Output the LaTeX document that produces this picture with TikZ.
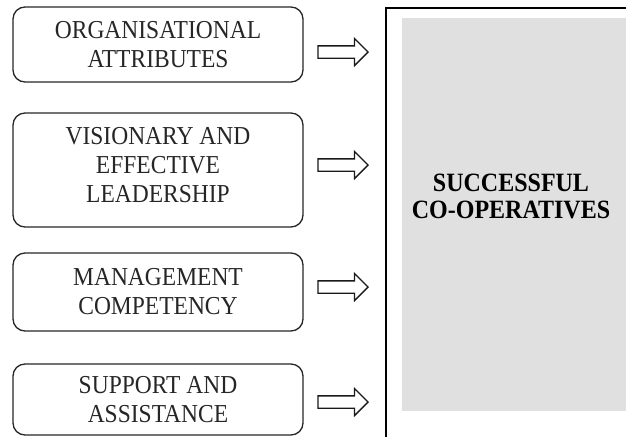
\documentclass[tikz,border=0pt]{standalone}
\usepackage{graphicx}
\usepackage{fontspec}
\setmainfont{Liberation Serif}
\usetikzlibrary{shapes.arrows,positioning}

% taller letters, as in the original figure
\newcommand\tl[1]{\scalebox{1}[1.1]{#1}}

\begin{document}
\begin{tikzpicture}[x=1pt,y=-1pt,
  factor node/.style={draw=black!85,line width=1.3pt,rounded corners=12pt,minimum width=290pt,align=center,text=black!85,font=\fontsize{23.5}{29}\selectfont},
  push arrow/.style={single arrow,draw=black!90,line width=1.3pt,minimum height=50pt,inner xsep=0pt,inner ysep=5.5pt,single arrow head extend=7.5pt},
  goal node/.style={align=center,font=\bfseries\fontsize{24}{27}\selectfont}]
  \useasboundingbox (0,0) rectangle (626,437);
  % outcome panel (cut off on the right and at the bottom)
  \fill[black!12] (402,18) rectangle (626,411);
  \draw[line width=1.5pt] (626,8) -- (386,8) -- (386,437);
  \node[goal node] (success) at (511,196) {\tl{SUCCESSFUL}\\\tl{CO-OPERATIVES}};

  \node[factor node,minimum height=75pt] (attr) at (158,44.5) {\tl{ORGANISATIONAL}\\\tl{ATTRIBUTES}};
  \node[factor node,minimum height=114pt,text depth=11pt] (lead) at (158,170) {\tl{VISIONARY AND}\\\tl{EFFECTIVE}\\\tl{LEADERSHIP}};
  \node[factor node,minimum height=78pt] (mgmt) at (158,292) {\tl{MANAGEMENT}\\\tl{COMPETENCY}};
  \node[factor node,minimum height=71pt] (supp) at (158,399.5) {\tl{SUPPORT AND}\\\tl{ASSISTANCE}};

  \node[push arrow] (attr arrow) at (340,52) {};
  \node[push arrow] (lead arrow) at (340,165) {};
  \node[push arrow] (mgmt arrow) at (340,287) {};
  \node[push arrow] (supp arrow) at (340,402) {};
\end{tikzpicture}
\end{document}
